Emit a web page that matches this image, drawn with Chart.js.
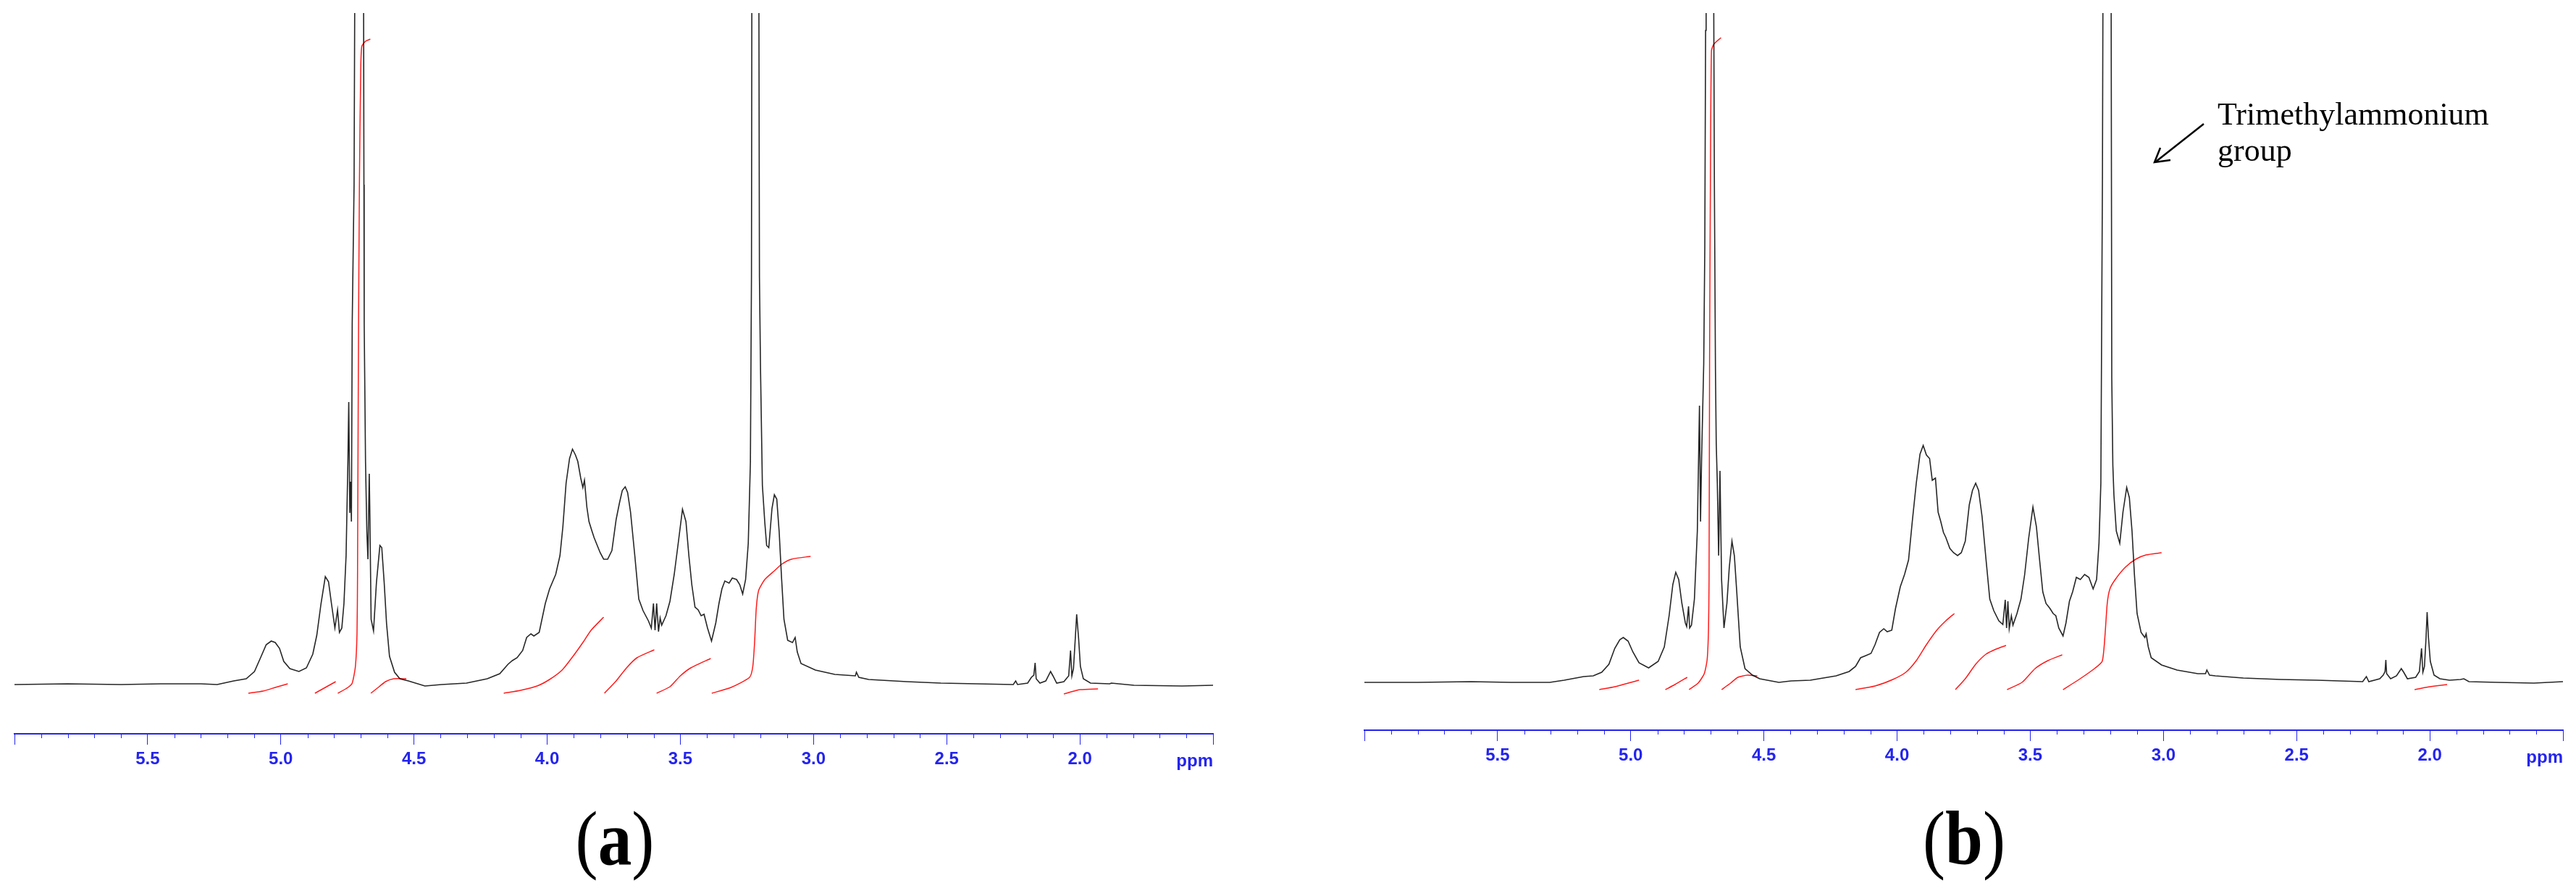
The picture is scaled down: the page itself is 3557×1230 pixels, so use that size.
<!DOCTYPE html>
<html>
<head>
<meta charset="utf-8">
<script src="https://cdn.jsdelivr.net/npm/chart.js@4.4.1/dist/chart.umd.min.js"></script>
<style>
  html, body { margin: 0; padding: 0; background: #fff; }
  body { width: 3557px; height: 1230px; position: relative; overflow: hidden; }
  canvas { position: absolute; top: 0; }
  #chart-a { left: 0; }
  #chart-b { left: 1860px; }
  .panel-label {
    position: absolute; top: 1105px;
    font-family: "Liberation Serif", "Times New Roman", serif;
    font-size: 106px; line-height: 1; white-space: nowrap;
    transform: translateX(-50%) scaleX(0.88);
  }
  .note {
    position: absolute; left: 3062px; top: 133px;
    font-family: "Liberation Serif", "Times New Roman", serif;
    font-size: 44px; line-height: 50px; white-space: nowrap;
  }
  svg { position: absolute; left: 0; top: 0; }
</style>
</head>
<body>
<canvas id="chart-a" width="1700" height="1093"></canvas>
<canvas id="chart-b" width="1700" height="1088"></canvas>
<div class="panel-label" style="left:849px">(<b>a</b>)</div>
<div class="panel-label" style="left:2712px">(<b>b</b>)</div>
<div class="note">Trimethylammonium<br>group</div>
<svg width="3557" height="1230">
  <line x1="3043" y1="171" x2="2977" y2="223" stroke="#000" stroke-width="2.5"/>
  <polyline points="2997,221 2975,224 2983,204" fill="none" stroke="#000" stroke-width="2.5"/>
</svg>
<script>
const AXIS_BLUE = "#2424ee";
const MAJOR_TICKS = [6.0, 5.5, 5.0, 4.5, 4.0, 3.5, 3.0, 2.5, 2.0, 1.5];
const TICK_LABELS = ["", "5.5", "5.0", "4.5", "4.0", "3.5", "3.0", "2.5", "2.0", ""];

// (a) spectrum, ppm vs height above baseline
const specAPpm = [6.00, 5.80, 5.60, 5.45, 5.30, 5.239, 5.177, 5.130, 5.099, 5.075, 5.055, 5.036, 5.021, 5.005, 4.989, 4.966, 4.932, 4.904, 4.880, 4.865, 4.849, 4.833, 4.821, 4.810, 4.797, 4.787, 4.780, 4.771, 4.763, 4.755, 4.748, 4.745, 4.741, 4.738, 4.735, 4.732, 4.725, 4.721, 4.712, 4.700, 4.690, 4.688, 4.687, 4.682, 4.677, 4.673, 4.668, 4.666, 4.661, 4.652, 4.641, 4.628, 4.621, 4.612, 4.603, 4.592, 4.573, 4.553, 4.521, 4.459, 4.397, 4.303, 4.225, 4.178, 4.147, 4.131, 4.113, 4.092, 4.077, 4.061, 4.050, 4.030, 4.007, 3.991, 3.968, 3.952, 3.941, 3.929, 3.916, 3.905, 3.894, 3.885, 3.874, 3.866, 3.860, 3.851, 3.843, 3.832, 3.824, 3.812, 3.801, 3.788, 3.773, 3.757, 3.741, 3.729, 3.718, 3.707, 3.698, 3.687, 3.671, 3.656, 3.640, 3.620, 3.609, 3.601, 3.595, 3.589, 3.582, 3.576, 3.570, 3.554, 3.539, 3.523, 3.507, 3.492, 3.479, 3.468, 3.457, 3.445, 3.433, 3.422, 3.411, 3.398, 3.383, 3.367, 3.355, 3.344, 3.333, 3.317, 3.305, 3.289, 3.277, 3.266, 3.255, 3.245, 3.237, 3.233, 3.231, 3.220, 3.206, 3.203, 3.199, 3.192, 3.183, 3.176, 3.168, 3.156, 3.147, 3.138, 3.129, 3.120, 3.111, 3.097, 3.079, 3.069, 3.061, 3.047, 2.993, 2.920, 2.843, 2.839, 2.830, 2.793, 2.650, 2.522, 2.386, 2.250, 2.241, 2.234, 2.196, 2.182, 2.173, 2.168, 2.164, 2.150, 2.128, 2.110, 2.101, 2.087, 2.060, 2.042, 2.035, 2.030, 2.024, 2.017, 2.012, 2.005, 1.998, 1.987, 1.960, 1.888, 1.882, 1.797, 1.616, 1.500];
const specAInt = [0, 1, 0, 1, 1, 0, 5, 8, 18, 38, 55, 60, 58, 50, 32, 22, 18, 23, 42, 68, 112, 149, 142, 112, 78, 103, 72, 78, 112, 178, 312, 390, 237, 280, 225, 498, 690, 1100, 1500, 1500, 1100, 690, 498, 307, 211, 173, 291, 243, 90, 74, 141, 192, 189, 141, 84, 39, 17, 8, 5, -2, 0, 2, 8, 15, 28, 33, 37, 47, 65, 70, 67, 72, 112, 132, 152, 178, 218, 278, 312, 325, 317, 308, 285, 272, 282, 245, 225, 212, 203, 192, 182, 173, 173, 185, 228, 250, 268, 273, 265, 238, 178, 118, 102, 88, 78, 112, 75, 112, 73, 92, 82, 95, 115, 152, 198, 242, 225, 178, 138, 107, 103, 95, 97, 78, 60, 85, 112, 132, 143, 140, 147, 145, 138, 125, 145, 195, 307, 562, 1100, 1600, 1100, 562, 435, 275, 224, 192, 189, 243, 262, 256, 211, 147, 90, 61, 58, 65, 45, 29, 20, 14, 12, 17, 10, 7, 4, 2, 1, 0, 5, 0, 2, 10, 13, 30, 8, 2, 5, 18, 12, 2, 4, 12, 47, 12, 22, 65, 97, 65, 25, 8, 2, 1, 2, -1, -2, -1];

// (a) integral traces, null = break between regions
const integAPpm = [5.122, 5.067, 5.021, 4.974, null, 4.872, 4.833, 4.794, null, 4.786, 4.748, 4.732, 4.720, 4.714, 4.712, 4.709, 4.705, 4.700, 4.696, 4.682, 4.664, null, 4.662, 4.631, 4.607, 4.576, 4.529, null, 4.163, 4.100, 4.038, 3.991, 3.944, 3.897, 3.866, 3.835, 3.788, null, 3.785, 3.741, 3.702, 3.663, 3.598, null, 3.589, 3.539, 3.500, 3.461, 3.386, null, 3.382, 3.310, 3.240, 3.228, 3.221, 3.215, 3.206, 3.183, 3.147, 3.120, 3.083, 3.011, null, 2.060, 2.012, 1.998, 1.932];
const integAInt = [-12, -9, -4, 1, null, -12, -4, 4, null, -12, -4, 2, 25, 70, 150, 435, 690, 849, 881, 888, 891, null, -12, -3, 4, 8, 8, null, -12, -8, -2, 7, 20, 42, 58, 75, 93, null, -12, 5, 23, 37, 48, null, -12, -3, 12, 23, 36, null, -12, -4, 10, 25, 60, 105, 130, 145, 157, 166, 173, 177, null, -13, -8, -7, -6];

// (b) spectrum
const specBPpm = [6.00, 5.80, 5.60, 5.45, 5.304, 5.250, 5.177, 5.141, 5.109, 5.082, 5.060, 5.041, 5.028, 5.010, 4.992, 4.969, 4.933, 4.897, 4.874, 4.856, 4.842, 4.831, 4.820, 4.808, 4.795, 4.790, 4.783, 4.779, 4.772, 4.761, 4.750, 4.742, 4.738, 4.734, 4.726, 4.722, 4.719, 4.717, 4.703, 4.690, 4.686, 4.682, 4.679, 4.675, 4.670, 4.665, 4.659, 4.650, 4.639, 4.630, 4.620, 4.611, 4.602, 4.589, 4.571, 4.543, 4.516, 4.444, 4.398, 4.326, 4.229, 4.180, 4.156, 4.137, 4.117, 4.098, 4.083, 4.066, 4.050, 4.037, 4.020, 4.006, 3.988, 3.972, 3.957, 3.943, 3.928, 3.914, 3.902, 3.890, 3.878, 3.868, 3.856, 3.846, 3.836, 3.826, 3.817, 3.802, 3.788, 3.773, 3.759, 3.744, 3.729, 3.717, 3.705, 3.694, 3.681, 3.666, 3.652, 3.637, 3.618, 3.603, 3.594, 3.589, 3.584, 3.579, 3.571, 3.565, 3.550, 3.535, 3.521, 3.506, 3.490, 3.477, 3.465, 3.453, 3.441, 3.426, 3.414, 3.404, 3.393, 3.377, 3.366, 3.353, 3.341, 3.327, 3.312, 3.296, 3.280, 3.264, 3.251, 3.242, 3.235, 3.229, 3.226, 3.212, 3.197, 3.194, 3.190, 3.186, 3.177, 3.164, 3.152, 3.138, 3.128, 3.118, 3.109, 3.099, 3.084, 3.070, 3.065, 3.057, 3.046, 3.007, 2.949, 2.871, 2.842, 2.837, 2.827, 2.805, 2.700, 2.560, 2.424, 2.252, 2.238, 2.229, 2.188, 2.175, 2.168, 2.165, 2.162, 2.147, 2.125, 2.107, 2.098, 2.084, 2.053, 2.039, 2.031, 2.026, 2.020, 2.014, 2.010, 2.005, 1.998, 1.984, 1.962, 1.926, 1.885, 1.872, 1.853, 1.745, 1.609, 1.500];
const specBInt = [0, 0, 1, 0, 0, 3, 8, 9, 14, 25, 47, 59, 62, 57, 42, 27, 20, 29, 49, 92, 135, 152, 142, 109, 82, 77, 105, 75, 79, 115, 209, 382, 222, 309, 440, 600, 900, 1100, 1500, 1100, 687, 432, 329, 275, 175, 292, 142, 75, 109, 159, 195, 175, 125, 49, 19, 10, 5, 0, 2, 3, 9, 15, 22, 34, 37, 40, 52, 69, 74, 70, 72, 102, 132, 149, 169, 222, 275, 315, 327, 314, 309, 279, 282, 235, 222, 207, 200, 185, 179, 175, 179, 195, 245, 265, 275, 265, 229, 169, 115, 99, 85, 80, 114, 75, 112, 74, 92, 79, 95, 115, 149, 199, 242, 215, 169, 125, 109, 102, 95, 92, 75, 64, 82, 112, 125, 145, 142, 149, 145, 129, 142, 192, 275, 700, 1100, 1600, 1100, 420, 300, 259, 209, 192, 235, 269, 255, 209, 149, 95, 69, 62, 67, 49, 34, 24, 17, 12, 12, 17, 10, 9, 6, 4, 3, 1, 8, 1, 5, 10, 15, 31, 12, 5, 9, 19, 14, 5, 7, 15, 47, 14, 22, 62, 97, 62, 29, 10, 5, 3, 4, 5, 1, 0, -1, 1];

// (b) integral traces
const integBPpm = [5.118, 5.060, 4.969, null, 4.870, 4.834, 4.788, null, 4.781, 4.747, 4.724, 4.713, 4.708, 4.706, 4.704, 4.701, 4.697, 4.688, 4.661, null, 4.659, 4.625, 4.598, 4.562, 4.525, null, 4.156, 4.083, 4.016, 3.967, 3.928, 3.890, 3.851, 3.817, 3.785, null, 3.781, 3.744, 3.705, 3.666, 3.628, 3.591, null, 3.587, 3.531, 3.482, 3.434, 3.380, null, 3.377, 3.317, 3.259, 3.230, 3.220, 3.211, 3.201, 3.181, 3.143, 3.104, 3.065, 3.007, null, 2.057, 2.016, 1.980, 1.935];
const integBInt = [-10, -6, 3, null, -10, -3, 7, null, -10, -1, 12, 32, 75, 142, 442, 687, 872, 881, 890, null, -10, -1, 7, 10, 9, null, -10, -5, 4, 14, 30, 52, 72, 85, 95, null, -10, 5, 25, 39, 46, 51, null, -10, 0, 19, 30, 38, null, -10, 4, 19, 29, 62, 109, 129, 142, 159, 170, 176, 179, null, -10, -7, -5, -3];

function toPoints(xs, ys) {
  return xs.map((x, i) => ({ x: x === null ? xs[i - 1] : x, y: ys[i] }));
}

const minorTicks = {
  id: "minorTicks",
  afterDraw(chart) {
    const sc = chart.scales.x;
    const ctx = chart.ctx;
    const y0 = chart.chartArea.bottom;
    ctx.save();
    ctx.strokeStyle = AXIS_BLUE;
    ctx.lineWidth = 1;
    ctx.beginPath();
    for (let v = 59; v > 15; v--) {
      if (v % 5 === 0) continue;
      const px = Math.round(sc.getPixelForValue(v / 10)) + 0.5;
      ctx.moveTo(px, y0);
      ctx.lineTo(px, y0 + 6);
    }
    ctx.stroke();
    ctx.font = 'bold 24px "Liberation Sans", Arial, sans-serif';
    ctx.fillStyle = AXIS_BLUE;
    ctx.textAlign = "right";
    ctx.textBaseline = "alphabetic";
    ctx.fillText("ppm", chart.chartArea.right, y0 + 45);
    ctx.restore();
  },
};

function makeChart(id, spec, integ, yMin, yMax, pad) {
  return new Chart(document.getElementById(id), {
    type: "line",
    data: {
      datasets: [
        {
          data: toPoints(spec[0], spec[1]),
          borderColor: "rgba(0,0,0,0.85)",
          borderWidth: 1.6,
          pointRadius: 0,
          tension: 0,
        },
        {
          data: toPoints(integ[0], integ[1]),
          borderColor: "#ff1a1a",
          borderWidth: 1.5,
          pointRadius: 0,
          tension: 0.2,
          spanGaps: false,
        },
      ],
    },
    options: {
      responsive: false,
      animation: false,
      devicePixelRatio: 1,
      events: [],
      layout: { padding: pad },
      plugins: { legend: { display: false }, tooltip: { enabled: false } },
      scales: {
        x: {
          type: "linear",
          min: 1.5,
          max: 6.0,
          reverse: true,
          afterBuildTicks: (scale) => {
            scale.ticks = MAJOR_TICKS.map((v) => ({ value: v }));
          },
          afterFit: (scale) => {
            scale.height = 80;
          },
          border: { display: true, color: AXIS_BLUE, width: 2 },
          grid: {
            display: true,
            drawOnChartArea: false,
            drawTicks: true,
            tickLength: 15,
            color: AXIS_BLUE,
            tickColor: AXIS_BLUE,
            tickWidth: 1,
          },
          ticks: {
            autoSkip: false,
            maxRotation: 0,
            padding: 6,
            color: AXIS_BLUE,
            font: { family: '"Liberation Sans", Arial, sans-serif', size: 24, weight: "bold" },
            callback: (value, index) => TICK_LABELS[index],
          },
        },
        y: { display: false, min: yMin, max: yMax },
      },
    },
    plugins: [minorTicks],
  });
}

makeChart("chart-a", [specAPpm, specAInt], [integAPpm, integAInt], -68, 927,
  { left: 20, right: 25, top: 18, bottom: 0 });
makeChart("chart-b", [specBPpm, specBInt], [integBPpm, integBInt], -66, 924,
  { left: 24, right: 21, top: 18, bottom: 0 });
</script>
</body>
</html>
